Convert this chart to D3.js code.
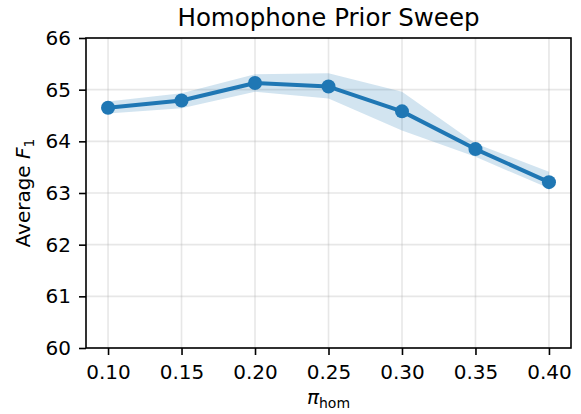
<!DOCTYPE html>
<html>
<head>
<meta charset="utf-8">
<script src="https://cdn.jsdelivr.net/npm/d3@7"></script>
<style>
  body { margin: 0; background: #fff; }
  svg text { font-family: "DejaVu Sans", sans-serif; fill: #000; }
</style>
</head>
<body>
<div id="chart"></div>
<script>
// prior values on the x axis
const priors = [0.10, 0.15, 0.20, 0.25, 0.30, 0.35, 0.40];
// mean F1 and the shaded band around it
const meanF1 = [64.65, 64.79, 65.13, 65.06, 64.58, 63.85, 63.21];
const upperF1 = [64.77, 64.93, 65.30, 65.32, 64.96, 63.96, 63.41];
const lowerF1 = [64.54, 64.64, 64.96, 64.83, 64.21, 63.70, 63.09];
const xTicks = [0.10, 0.15, 0.20, 0.25, 0.30, 0.35, 0.40];
const yTicks = [60, 61, 62, 63, 64, 65, 66];

const width = 581, height = 414;
const margin = {top: 38, right: 10, bottom: 66, left: 86};
const blue = "#1f77b4";

const svg = d3.select("#chart").append("svg")
    .attr("width", width)
    .attr("height", height);

const x = d3.scaleLinear()
    .domain([0.085, 0.415])
    .range([margin.left, width - margin.right]);

const y = d3.scaleLinear()
    .domain([60, 66])
    .range([height - margin.bottom, margin.top]);

const rows = priors.map((p, i) => ({p, m: meanF1[i], lo: lowerF1[i], hi: upperF1[i]}));

// grid
svg.append("g")
  .selectAll("line")
  .data(xTicks)
  .join("line")
  .attr("x1", d => x(d)).attr("x2", d => x(d))
  .attr("y1", margin.top).attr("y2", height - margin.bottom)
  .attr("stroke", "#b0b0b0").attr("stroke-opacity", 0.3).attr("stroke-width", 1.6);

svg.append("g")
  .selectAll("line")
  .data(yTicks)
  .join("line")
  .attr("x1", margin.left).attr("x2", width - margin.right)
  .attr("y1", d => y(d)).attr("y2", d => y(d))
  .attr("stroke", "#b0b0b0").attr("stroke-opacity", 0.3).attr("stroke-width", 1.6);

// band
svg.append("path")
  .datum(rows)
  .attr("fill", blue)
  .attr("fill-opacity", 0.2)
  .attr("d", d3.area().x(d => x(d.p)).y0(d => y(d.lo)).y1(d => y(d.hi)));

// line
svg.append("path")
  .datum(rows)
  .attr("fill", "none")
  .attr("stroke", blue)
  .attr("stroke-width", 4)
  .attr("stroke-linejoin", "round")
  .attr("d", d3.line().x(d => x(d.p)).y(d => y(d.m)));

svg.append("g")
  .selectAll("circle")
  .data(rows)
  .join("circle")
  .attr("cx", d => x(d.p))
  .attr("cy", d => y(d.m))
  .attr("r", 7)
  .attr("fill", blue);

// axes
const xAxis = svg.append("g")
  .attr("transform", `translate(0,${height - margin.bottom})`)
  .call(d3.axisBottom(x).tickValues(xTicks).tickFormat(d3.format(".2f")).tickSize(7).tickPadding(9.8));

const yAxis = svg.append("g")
  .attr("transform", `translate(${margin.left},0)`)
  .call(d3.axisLeft(y).tickValues(yTicks).tickFormat(d3.format("d")).tickSize(7).tickPadding(8));

[xAxis, yAxis].forEach(a => {
  a.select(".domain").remove();
  a.selectAll("line").attr("stroke", "#000").attr("stroke-width", 1.6);
  a.selectAll("text").attr("font-size", 20).attr("font-family", "DejaVu Sans");
});

// frame
svg.append("rect")
  .attr("x", margin.left).attr("y", margin.top)
  .attr("width", width - margin.left - margin.right)
  .attr("height", height - margin.top - margin.bottom)
  .attr("fill", "none").attr("stroke", "#000").attr("stroke-width", 1.6);

// title
svg.append("text")
  .attr("x", (margin.left + width - margin.right) / 2)
  .attr("y", 26)
  .attr("text-anchor", "middle")
  .attr("font-size", 24.5)
  .text("Homophone Prior Sweep");

// x label
const xl = svg.append("text")
  .attr("x", (margin.left + width - margin.right) / 2)
  .attr("y", 404)
  .attr("text-anchor", "middle")
  .attr("font-size", 20);
xl.append("tspan").attr("font-style", "italic").text("π");
xl.append("tspan").attr("font-size", 14).attr("dy", 4).text("hom");

// y label
const yl = svg.append("text")
  .attr("transform", `translate(30,${(margin.top + height - margin.bottom) / 2}) rotate(-90)`)
  .attr("text-anchor", "middle")
  .attr("font-size", 20);
yl.append("tspan").text("Average ");
yl.append("tspan").attr("font-style", "italic").text("F");
yl.append("tspan").attr("font-size", 14).attr("dy", 4).text("1");
</script>
</body>
</html>
